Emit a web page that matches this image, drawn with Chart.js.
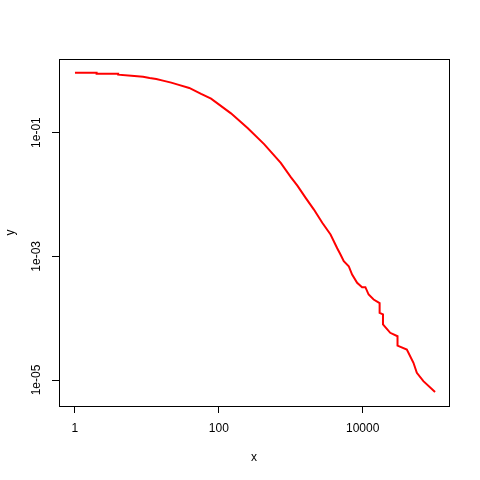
<!DOCTYPE html>
<html>
<head>
<meta charset="utf-8">
<script src="https://cdn.jsdelivr.net/npm/chart.js@4"></script>
<style>
  html, body { margin: 0; padding: 0; background: #fff; }
</style>
</head>
<body>
<canvas id="chart" width="480" height="480"></canvas>
<script>
const xValues = [1, 2, 2, 3.99, 3.99, 6.09, 8.85, 10.9, 13.5, 16.7, 21.8, 27.0, 38.8, 56.7, 78.0, 147.5, 251, 426, 726, 1002, 1236, 1611, 2099, 2742, 3573, 4424, 4914, 5460, 6400, 7130, 8370, 9810, 10900, 12100, 14200, 17200, 17200, 19150, 19150, 24150, 30500, 30500, 41100, 50800, 56600, 69800, 101400];
const yValues = [0.931, 0.931, 0.897, 0.897, 0.865, 0.834, 0.803, 0.765, 0.738, 0.692, 0.643, 0.597, 0.527, 0.422, 0.354, 0.205, 0.119, 0.0652, 0.0324, 0.0191, 0.0139, 0.00881, 0.0057, 0.00348, 0.00225, 0.00135, 0.00107, 0.000833, 0.000692, 0.000508, 0.000373, 0.000317, 0.000317, 0.000241, 0.0002, 0.000175, 0.000122, 0.000115, 7.9e-5, 5.8e-5, 5.1e-5, 3.6e-5, 3.1e-5, 1.9e-5, 1.31e-5, 9.6e-6, 6.4e-6];

const xTicks = [1, 100, 10000];
const xTickLabels = ['1', '100', '10000'];
const yTicks = [1e-1, 1e-3, 1e-5];
const yTickLabels = ['1e-01', '1e-03', '1e-05'];

const points = xValues.map((x, i) => ({ x: x, y: yValues[i] }));

// frame around the plot region, like R's box()
const boxPlugin = {
    id: 'box',
    afterDraw(chart) {
        const a = chart.chartArea;
        const ctx = chart.ctx;
        ctx.save();
        ctx.strokeStyle = '#000';
        ctx.lineWidth = 1;
        ctx.strokeRect(Math.round(a.left) + 0.5, Math.round(a.top) + 0.5,
            Math.round(a.right - a.left), Math.round(a.bottom - a.top));
        ctx.restore();
    }
};

const tickFont = { family: 'Liberation Sans, Arial, sans-serif', size: 12 };

new Chart(document.getElementById('chart'), {
    type: 'line',
    data: {
        datasets: [{
            data: points,
            borderColor: '#ff0000',
            borderWidth: 2,
            pointRadius: 0,
            tension: 0,
            fill: false
        }]
    },
    options: {
        responsive: false,
        animation: false,
        layout: { padding: { top: 59, right: 31, left: 0, bottom: 0 } },
        plugins: { legend: { display: false }, tooltip: { enabled: false } },
        scales: {
            x: {
                type: 'logarithmic',
                min: Math.pow(10, -0.194),
                max: Math.pow(10, 5.2),
                afterBuildTicks: s => { s.ticks = xTicks.map(v => ({ value: v })); },
                afterFit: s => { s.height = 74; },
                grid: { drawOnChartArea: false, drawTicks: true, tickLength: 7, color: '#000' },
                border: { display: false },
                ticks: {
                    color: '#000',
                    font: tickFont,
                    padding: 8,
                    maxRotation: 0,
                    autoSkip: false,
                    callback: (v) => xTickLabels[xTicks.indexOf(v)]
                },
                title: { display: true, text: 'x', color: '#000', font: tickFont, padding: { top: 0, bottom: 15 } }
            },
            y: {
                type: 'logarithmic',
                min: Math.pow(10, -5.42),
                max: Math.pow(10, 0.19),
                afterBuildTicks: s => { s.ticks = yTicks.map(v => ({ value: v })); },
                afterFit: s => { s.width = 59; },
                grid: { drawOnChartArea: false, drawTicks: true, tickLength: 7, color: '#000' },
                border: { display: false },
                ticks: {
                    color: '#000',
                    font: tickFont,
                    padding: 0,
                    minRotation: 90,
                    maxRotation: 90,
                    crossAlign: 'center',
                    autoSkip: false,
                    callback: (v) => yTickLabels[yTicks.findIndex(t => Math.abs(t - v) / t < 1e-6)]
                },
                title: { display: true, text: 'y', color: '#000', font: tickFont, padding: { top: 3, bottom: 0 } }
            }
        }
    },
    plugins: [boxPlugin]
});
</script>
</body>
</html>
